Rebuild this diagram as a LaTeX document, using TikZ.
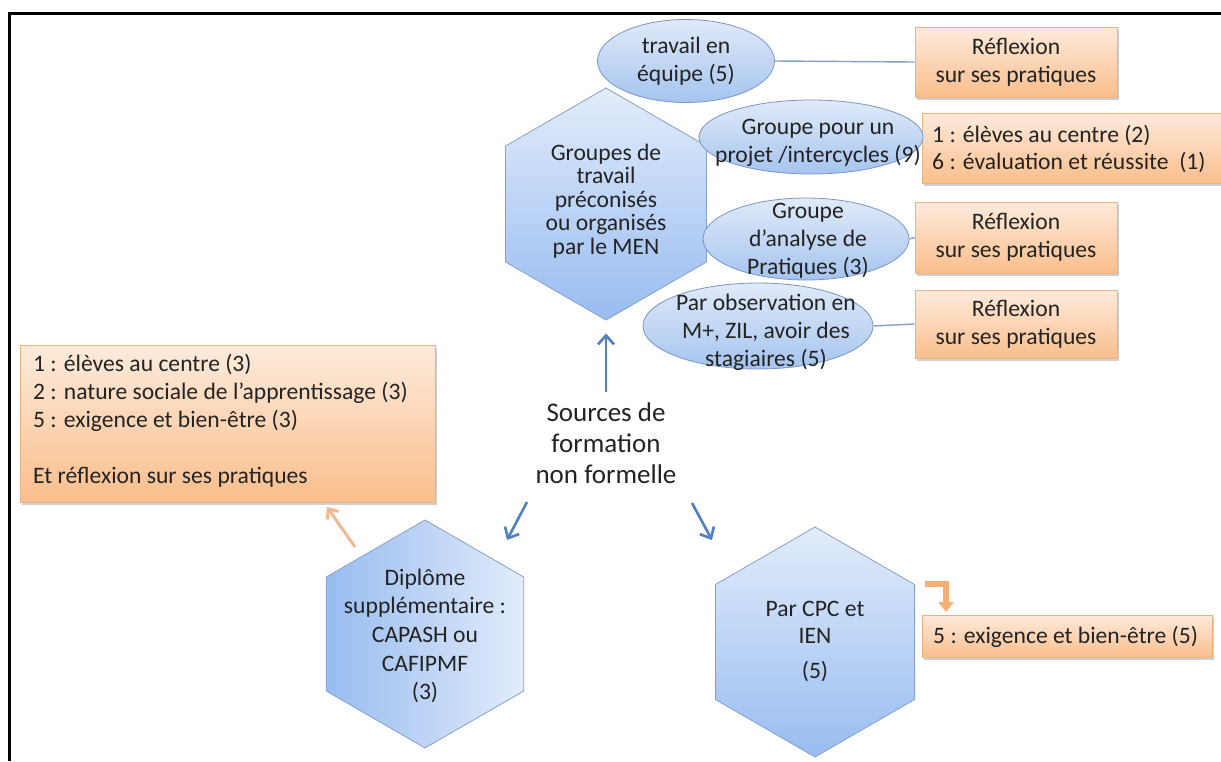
\documentclass[tikz,border=0pt]{standalone}
\usepackage{fontspec}
\setmainfont{Carlito}
\usetikzlibrary{shapes.geometric,arrows.meta,shadows}
\definecolor{txt}{RGB}{35,35,35}
\definecolor{blueA}{RGB}{79,129,189}
\definecolor{hexL}{RGB}{226,236,251}
\definecolor{hexD}{RGB}{152,188,240}
\definecolor{hexE}{RGB}{135,160,200}
\definecolor{ellL}{RGB}{224,234,249}
\definecolor{ellD}{RGB}{165,196,238}
\definecolor{ellE}{RGB}{120,150,200}
\definecolor{orL}{RGB}{253,235,220}
\definecolor{orD}{RGB}{250,190,140}
\definecolor{orE}{RGB}{232,178,130}
\definecolor{orA}{RGB}{240,185,145}
\definecolor{orB}{RGB}{246,176,115}
\definecolor{lnk}{RGB}{130,160,200}
\begin{document}
\begin{tikzpicture}[x=1pt,y=-1pt, font=\fontsize{23.6}{28}\selectfont, text=txt,
 hexa/.style={regular polygon, regular polygon sides=6, shape border rotate=30, minimum size=#1, inner sep=0pt, draw=hexE, line width=0.8pt},
 ell/.style={ellipse, draw=ellE, line width=0.8pt, top color=ellL, bottom color=ellD, inner sep=0pt},
 obox/.style={rectangle, draw=orE, line width=0.6pt, top color=orL, bottom color=orD, inner sep=0pt, drop shadow={shadow xshift=2pt, shadow yshift=-3pt, opacity=0.3, fill=black!60}},
 lbl/.style={align=center, inner sep=0pt},
 lbll/.style={align=left, inner sep=0pt, anchor=west},
 barrow/.style={draw=blueA, line width=2.6pt, -{Straight Barb[length=9pt,width=16pt]}},
 oarrow/.style={draw=orA, line width=3pt, -{Straight Barb[length=8pt,width=14pt]}},
 link/.style={draw=lnk, line width=1.4pt}]
\useasboundingbox (0,0) rectangle (1221,761);
\clip (0,0) rectangle (1221,761);
\fill[white] (0,0) rectangle (1221,761);
\draw[line width=3pt] (9.5,761) -- (9.5,13) -- (1221,13);

% hexagons
\node[hexa=232pt, top color=hexL, bottom color=hexD] (h1) at (606,204) {};
\node[lbl, font=\fontsize{23.6}{23.6}\selectfont] (t1) at (606,201) {Groupes de\\travail\\préconisés\\ou organisés\\par le MEN};
\node[hexa=228pt, left color=hexD, right color=hexL] (h2) at (425,634) {};
\node[lbl, font=\fontsize{23.6}{28.7}\selectfont] (t2) at (425,636) {Diplôme\\supplémentaire :\\CAPASH ou\\CAFIPMF\\(3)};
\node[hexa=230pt, top color=hexL, bottom color=hexD] (h3) at (815,642) {};
\node[lbl, font=\fontsize{23.6}{27}\selectfont] (t3) at (815,641) {Par CPC et\\IEN\\[8pt](5)};

% boxes
\node[obox, minimum width=202pt, minimum height=70pt] (b1) at (1016,62) {};
\node[lbl] (b1t) at (b1) {Réflexion\\sur ses pratiques};
\node[obox, minimum width=318pt, minimum height=70pt] (b2) at (1081,148) {};
\node[lbll] (b2t) at (932,149) {1 : élèves au centre (2)\\6 : évaluation et réussite~ (1)};
\node[obox, minimum width=202pt, minimum height=71pt] (b3) at (1016,237.5) {};
\node[lbl] (b3t) at (b3) {Réflexion\\sur ses pratiques};
\node[obox, minimum width=202pt, minimum height=68pt] (b4) at (1016,324) {};
\node[lbl] (b4t) at (b4) {Réflexion\\sur ses pratiques};
\node[obox, minimum width=290pt, minimum height=42pt] (b5) at (1067,636) {};
\node[lbll] (b5t) at (933,637) {5 : exigence et bien-être (5)};
\node[obox, minimum width=415pt, minimum height=157pt] (b6) at (227.5,423.5) {};
\node[lbll] (b6t) at (33,421) {1 : élèves au centre (3)\\2 : nature sociale de l’apprentissage (3)\\5 : exigence et bien-être (3)\\[28pt]Et réflexion sur ses pratiques};

% ellipses
\node[ell, minimum width=177pt, minimum height=83pt] (e1) at (686,61) {};
\node[lbl] (e1t) at (e1) {travail en\\équipe (5)};
\node[ell, minimum width=224pt, minimum height=74pt] (e2) at (811,137) {};
\node[lbl] (e2t) at (818,143) {Groupe pour un\\projet /intercycles (9)};
\node[ell, minimum width=206pt, minimum height=82pt] (e3) at (806,239) {};
\node[lbl] (e3t) at (808,241) {Groupe\\d’analyse de\\Pratiques (3)};
\node[ell, minimum width=230pt, minimum height=86pt] (e4) at (758,326) {};
\node[lbl] (e4t) at (766,332) {Par observation en\\M+, ZIL, avoir des\\stagiaires (5)};

% links
\draw[link] (e1.east) -- (b1.west);
\draw[link] (e3.east) -- (b3.west);
\draw[link] (e4.east) -- (b4.west);

% centre
\node[lbl, font=\fontsize{27}{31}\selectfont] (src) at (606,443) {Sources de\\formation\\non formelle};
\coordinate (u0) at (606,392);
\draw[barrow, shorten >=13pt] (u0) -- (h1.south);
\coordinate (l0) at (527,502);
\coordinate (l1) at (507,540);
\draw[barrow] (l0) -- (l1);
\coordinate (r0) at (692,503);
\coordinate (r1) at (712,540);
\draw[barrow] (r0) -- (r1);
\coordinate (o0) at (355,547);
\coordinate (o1) at (327,507);
\draw[oarrow] (o0) -- (o1);
\coordinate (ba0) at (925,584);
\coordinate (ba1) at (946,584);
\coordinate (ba2) at (946,612);
\draw[draw=orB, line width=6pt, line join=miter, -{Triangle[length=10pt,width=15pt]}] (ba0) -- (ba1) -- (ba2);
\end{tikzpicture}
\end{document}
